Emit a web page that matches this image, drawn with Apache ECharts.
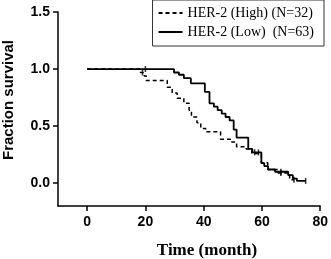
<!DOCTYPE html>
<html>
<head>
<meta charset="utf-8">
<script src="https://cdn.jsdelivr.net/npm/echarts@6/dist/echarts.min.js"></script>
<style>
  html, body { margin: 0; padding: 0; background: #fff; }
  #chart { width: 331px; height: 259px; }
</style>
</head>
<body>
<div id="chart"></div>
<script>
// Kaplan-Meier 曲线数据：时间（月）和生存率
const seriesNames = ['HER-2 (High) (N=32)', 'HER-2 (Low)  (N=63)']
const timeHigh = [0, 18.3, 19.6, 20.3, 27.5, 29.2, 30.9, 33.2, 35.0, 35.8, 37.7, 39.0, 40.7, 45.8, 49.6, 51.3, 54.6, 56.5, 59.8, 62.0, 65.5, 69.5, 71.0]
const survHigh = [1.0, 0.97, 0.94, 0.90, 0.84, 0.79, 0.745, 0.70, 0.64, 0.58, 0.53, 0.48, 0.45, 0.385, 0.36, 0.32, 0.30, 0.26, 0.18, 0.12, 0.09, 0.03, 0.03]
const timeLow = [0, 29.8, 31.5, 33.2, 35.6, 40.4, 42.0, 43.5, 44.8, 46.2, 47.5, 48.9, 50.3, 51.3, 55.3, 56.7, 59.8, 60.8, 62.1, 64.5, 69.0, 70.6, 72.0, 75.0]
const survLow = [1.0, 0.97, 0.95, 0.92, 0.875, 0.80, 0.70, 0.67, 0.64, 0.61, 0.58, 0.55, 0.47, 0.40, 0.30, 0.27, 0.175, 0.15, 0.12, 0.10, 0.07, 0.04, 0.02, 0.02]
// 删失点（小竖线）
const censorHighTime = [19.0, 66.5, 71.0]
const censorHighSurv = [0.97, 0.09, 0.03]
const censorLowTime = [20.0, 57.5, 58.8, 66.5, 75.0]
const censorLowSurv = [1.0, 0.27, 0.27, 0.10, 0.02]
// 坐标轴刻度
const xTicks = [0, 20, 40, 60, 80]
const yTicks = [0, 0.5, 1.0, 1.5]

const zip = (xs, ys) => xs.map((x, i) => [x, ys[i]])

const chart = echarts.init(document.getElementById('chart'))

const axisFont = {
  color: '#000',
  fontFamily: 'Liberation Sans',
  fontWeight: 'bold',
  fontSize: 14
}

const option = {
  animation: false,
  grid: {
    left: 58,
    right: 8,
    top: 12,
    bottom: 53
  },
  legend: {
    orient: 'vertical',
    right: 7,
    top: 0,
    padding: [6, 10, 7, 6],
    itemGap: 5,
    itemWidth: 24,
    itemHeight: 2,
    borderColor: '#333',
    borderWidth: 1,
    textStyle: {
      color: '#000',
      fontFamily: 'Liberation Serif',
      fontSize: 14
    },
    data: [
      // 虚线图例
      { name: seriesNames[0], icon: 'path://M0,0h4v2h-4zM7,0h4v2h-4zM14,0h4v2h-4zM21,0h3v2h-3z' },
      // 实线图例
      { name: seriesNames[1], icon: 'path://M0,0h24v2h-24z' }
    ]
  },
  xAxis: {
    type: 'value',
    min: -10,
    max: 80,
    splitLine: { show: false },
    axisLine: { onZero: false, lineStyle: { color: '#000', width: 1.5 } },
    axisTick: { length: 5, lineStyle: { color: '#000', width: 1.5 }, customValues: xTicks },
    axisLabel: Object.assign({ margin: 9, customValues: xTicks }, axisFont)
  },
  yAxis: {
    type: 'value',
    min: -0.2,
    max: 1.5,
    splitLine: { show: false },
    axisLine: { show: true, onZero: false, lineStyle: { color: '#000', width: 1.5 } },
    axisTick: { show: true, length: 5, lineStyle: { color: '#000', width: 1.5 }, customValues: yTicks },
    axisLabel: Object.assign({
      margin: 8,
      customValues: yTicks,
      formatter: (v) => v.toFixed(1)
    }, axisFont)
  },
  graphic: [
    {
      type: 'text',
      x: 207,
      y: 251,
      style: {
        text: 'Time (month)',
        fill: '#000',
        font: 'bold 17px "Liberation Serif"',
        textAlign: 'center',
        textVerticalAlign: 'middle'
      }
    },
    {
      type: 'text',
      x: 9,
      y: 100,
      rotation: Math.PI / 2,
      style: {
        text: 'Fraction survival',
        fill: '#000',
        font: 'bold 15px "Liberation Sans"',
        textAlign: 'center',
        textVerticalAlign: 'middle'
      }
    }
  ],
  series: [
    {
      name: seriesNames[0],
      type: 'line',
      step: 'end',
      symbol: 'none',
      color: '#000',
      lineStyle: { color: '#000', width: 1.5, type: [4, 3] },
      data: zip(timeHigh, survHigh)
    },
    {
      name: seriesNames[1],
      type: 'line',
      step: 'end',
      symbol: 'none',
      color: '#000',
      lineStyle: { color: '#000', width: 1.8 },
      data: zip(timeLow, survLow)
    },
    {
      type: 'scatter',
      symbol: 'rect',
      symbolSize: [1.5, 6],
      itemStyle: { color: '#000' },
      data: zip(censorHighTime, censorHighSurv)
    },
    {
      type: 'scatter',
      symbol: 'rect',
      symbolSize: [1.5, 6],
      itemStyle: { color: '#000' },
      data: zip(censorLowTime, censorLowSurv)
    }
  ]
}

chart.setOption(option)
</script>
</body>
</html>
